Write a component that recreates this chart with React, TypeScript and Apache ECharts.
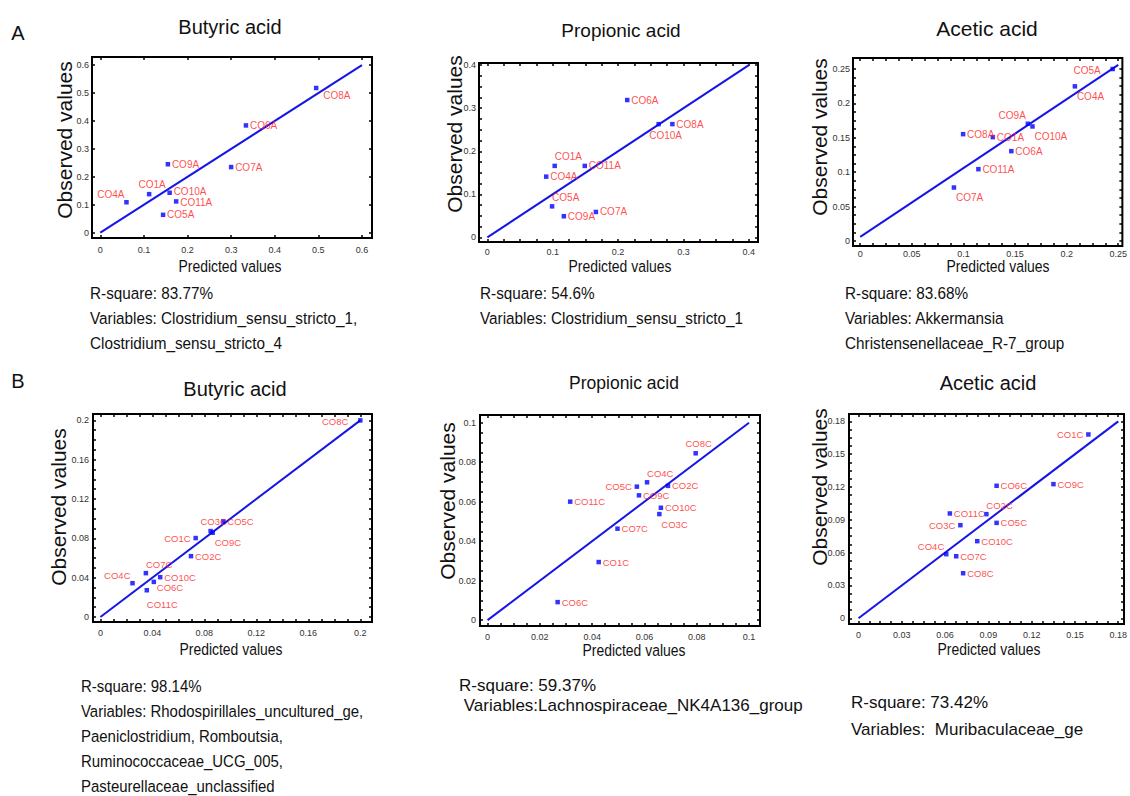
import React, { useEffect, useRef } from "react";
import * as echarts from "echarts";

const SANS = "'Liberation Sans', Arial, sans-serif";

// ---------- Panel A1: Butyric acid ----------
const a1Names = ["CO8A", "CO6A", "CO9A", "CO7A", "CO1A", "CO10A", "CO4A", "CO11A", "CO5A"];
const a1Pred = [0.495, 0.334, 0.155, 0.3, 0.112, 0.159, 0.06, 0.174, 0.144];
const a1Obs = [0.518, 0.384, 0.245, 0.235, 0.138, 0.143, 0.109, 0.112, 0.064];
const a1Fit = [[0, 0], [0.6, 0.6]];
const a1Ticks = [0, 0.1, 0.2, 0.3, 0.4, 0.5, 0.6];

// ---------- Panel A2: Propionic acid ----------
const a2Names = ["CO6A", "CO10A", "CO8A", "CO1A", "CO11A", "CO4A", "CO5A", "CO9A", "CO7A"];
const a2Pred = [0.214, 0.262, 0.283, 0.103, 0.149, 0.09, 0.099, 0.117, 0.166];
const a2Obs = [0.319, 0.263, 0.263, 0.166, 0.166, 0.141, 0.072, 0.049, 0.059];
const a2Fit = [[0, 0], [0.4, 0.4]];
const a2Ticks = [0, 0.1, 0.2, 0.3, 0.4];

// ---------- Panel A3: Acetic acid ----------
const a3Names = ["CO5A", "CO4A", "CO9A", "CO10A", "CO8A", "CO1A", "CO6A", "CO11A", "CO7A"];
const a3Pred = [0.2446, 0.208, 0.1624, 0.1669, 0.0997, 0.1285, 0.1464, 0.1145, 0.0908];
const a3Obs = [0.25, 0.2248, 0.1704, 0.1665, 0.1553, 0.151, 0.1306, 0.1044, 0.0777];
const a3Fit = [[0, 0.006], [0.25, 0.256]];
const a3Ticks = [0, 0.05, 0.1, 0.15, 0.2, 0.25];

// ---------- Panel B1: Butyric acid ----------
const b1Names = ["CO8C", "CO5C", "CO3C", "CO9C", "CO1C", "CO2C", "CO7C", "CO10C", "CO4C", "CO6C", "CO11C"];
const b1Pred = [0.2, 0.0946, 0.0848, 0.0864, 0.0733, 0.0697, 0.035, 0.046, 0.0247, 0.0411, 0.0357];
const b1Obs = [0.2, 0.0973, 0.0874, 0.0857, 0.0803, 0.0619, 0.0446, 0.0405, 0.0344, 0.0357, 0.0272];
const b1Fit = [[0, 0], [0.2, 0.2]];
const b1Ticks = [0, 0.04, 0.08, 0.12, 0.16, 0.2];

// ---------- Panel B2: Propionic acid ----------
const b2Names = ["CO8C", "CO4C", "CO5C", "CO2C", "CO9C", "CO11C", "CO10C", "CO3C", "CO7C", "CO1C", "CO6C"];
const b2Pred = [0.0796, 0.061, 0.0571, 0.069, 0.0579, 0.0316, 0.0663, 0.0657, 0.0497, 0.0425, 0.0268];
const b2Obs = [0.0845, 0.0698, 0.0676, 0.068, 0.0632, 0.06, 0.0569, 0.0537, 0.0463, 0.0294, 0.0091];
const b2Fit = [[0, 0], [0.1, 0.1]];
const b2Ticks = [0, 0.02, 0.04, 0.06, 0.08, 0.1];

// ---------- Panel B3: Acetic acid ----------
const b3Names = ["CO1C", "CO9C", "CO6C", "CO2C", "CO11C", "CO3C", "CO5C", "CO10C", "CO4C", "CO7C", "CO8C"];
const b3Pred = [0.1593, 0.1351, 0.0957, 0.0886, 0.0633, 0.0706, 0.0957, 0.0823, 0.0608, 0.0677, 0.0725];
const b3Obs = [0.168, 0.1226, 0.1211, 0.0952, 0.0958, 0.0851, 0.0872, 0.0705, 0.0586, 0.0567, 0.0412];
const b3Fit = [[0, 0], [0.18, 0.18]];
const b3Ticks = [0, 0.03, 0.06, 0.09, 0.12, 0.15, 0.18];

// ---------- Texts ----------
const panelTitles = ["Butyric acid", "Propionic acid", "Acetic acid", "Butyric acid", "Propionic acid", "Acetic acid"];
const xName = "Predicted values";
const yName = "Observed values";
const a1Notes = ["R-square: 83.77%", "Variables: Clostridium_sensu_stricto_1,", "Clostridium_sensu_stricto_4"];
const a2Notes = ["R-square: 54.6%", "Variables: Clostridium_sensu_stricto_1"];
const a3Notes = ["R-square: 83.68%", "Variables: Akkermansia", "Christensenellaceae_R-7_group"];
const b1Notes = [
  "R-square: 98.14%",
  "Variables: Rhodospirillales_uncultured_ge,",
  "Paeniclostridium, Romboutsia,",
  "Ruminococcaceae_UCG_005,",
  "Pasteurellaceae_unclassified",
];
const b2Notes = ["R-square: 59.37%", " Variables:Lachnospiraceae_NK4A136_group"];
const b3Notes = ["R-square: 73.42%", "Variables:  Muribaculaceae_ge"];

// ---------- Layout (positions / styles) ----------
const a1Place = ["brw", "r", "r", "r", "t", "rup", "tl", "rdn", "r"];
const a2Place = ["r", "b", "r", "tr", "r", "r", "tr", "r", "r"];
const a3Place = ["lw", "br", "tl", "br", "r", "r", "r", "r", "br"];
const b1Place = ["lw", "r", "t", "br", "l", "r", "tr", "r", "tl", "brs", "brl"];
const b2Place = ["t", "tr", "l", "r", "r", "r", "r", "br", "r", "r", "r"];
const b3Place = ["l", "r", "r", "tr", "r", "l", "r", "r", "tl", "r", "r"];

const placeMap: Record<string, [string, number, number]> = {
  r: ["left", 4, 0],
  rup: ["left", 4, -1],
  rdn: ["left", 4, 1],
  l: ["right", -5, 0],
  lw: ["right", -12, 1],
  t: ["center", 3, -10],
  b: ["center", 7, 11],
  tl: ["right", -2, -8],
  tr: ["left", 0, -9],
  br: ["left", 2, 10],
  brs: ["left", 3, 6],
  brl: ["left", 0, 14],
  brw: ["left", 7, 7],
};

const panels = [
  { names: a1Names, pred: a1Pred, obs: a1Obs, fit: a1Fit, xl: a1Ticks, yl: a1Ticks, div: 1, place: a1Place,
    box: [92, 57, 280, 181], xr: [-0.019, 0.623], yr: [-0.019, 0.629], big: true, xm: 7,
    title: [230, 27, 20], xn: [230, 266], yn: [64, 140], notes: a1Notes, nx: 90, ny: [293, 318, 343], ns: 0.9 },
  { names: a2Names, pred: a2Pred, obs: a2Obs, fit: a2Fit, xl: a2Ticks, yl: a2Ticks, div: 4, place: a2Place,
    box: [479, 63, 279, 179], xr: [-0.0128, 0.414], yr: [-0.0108, 0.405], big: true, xm: 5,
    title: [621, 30, 19], xn: [620, 266], yn: [454, 134], notes: a2Notes, nx: 480, ny: [293, 318], ns: 0.9 },
  { names: a3Names, pred: a3Pred, obs: a3Obs, fit: a3Fit, xl: a3Ticks, yl: a3Ticks, div: 4, place: a3Place,
    box: [853, 58, 272, 188], xr: [-0.007, 0.254], yr: [-0.0073, 0.266], big: true, xm: 3,
    title: [987, 28, 21], xn: [998, 266], yn: [819, 137], notes: a3Notes, nx: 845, ny: [293, 318, 343], ns: 0.9 },
  { names: b1Names, pred: b1Pred, obs: b1Obs, fit: b1Fit, xl: b1Ticks, yl: b1Ticks, div: 4, place: b1Place,
    box: [93, 414, 279, 208], xr: [-0.0057, 0.209], yr: [-0.0051, 0.2065], big: false, xm: 6,
    title: [235, 389, 20], xn: [231, 649], yn: [58, 507], notes: b1Notes, nx: 81, ny: [686, 711, 736, 761, 786], ns: 0.88 },
  { names: b2Names, pred: b2Pred, obs: b2Obs, fit: b2Fit, xl: b2Ticks, yl: b2Ticks, div: 4, place: b2Place,
    box: [480, 415, 280, 211], xr: [-0.0029, 0.1042], yr: [-0.003, 0.1039], big: false, xm: 6,
    title: [624, 383, 17.5], xn: [634, 650], yn: [447, 501], notes: b2Notes, nx: 459, ny: [685, 705], ns: 1.0 },
  { names: b3Names, pred: b3Pred, obs: b3Obs, fit: b3Fit, xl: b3Ticks, yl: b3Ticks, div: 4, place: b3Place,
    box: [849, 414, 279, 210], xr: [-0.0066, 0.184], yr: [-0.0052, 0.1867], big: false, xm: 6,
    title: [988, 383, 20], xn: [989, 649], yn: [819, 487], notes: b3Notes, nx: 851, ny: [702, 729], ns: 1.0 },
];

function tickValues(labels: number[], div: number): number[] {
  const out: number[] = [];
  for (let i = 0; i < labels.length; i++) {
    out.push(labels[i]);
    if (i < labels.length - 1) {
      for (let k = 1; k < div; k++) {
        const v = labels[i] + ((labels[i + 1] - labels[i]) * k) / div;
        out.push(Math.round(v * 1e6) / 1e6);
      }
    }
  }
  return out;
}

function textEl(text: string, x: number, y: number, size: number, align = "left", rotate = 0, sx = 1) {
  return {
    type: "text",
    x,
    y,
    rotation: rotate,
    scaleX: sx,
    silent: true,
    style: {
      text,
      x: 0,
      y: 0,
      fontSize: size,
      fontFamily: SANS,
      fill: "#111",
      align,
      verticalAlign: "middle",
      textAlign: align,
      textVerticalAlign: "middle",
    },
  };
}

function buildOption() {
  const grid: any[] = [];
  const xAxis: any[] = [];
  const yAxis: any[] = [];
  const series: any[] = [];
  const graphic: any[] = [];

  panels.forEach((p, i) => {
    grid.push({
      left: p.box[0],
      top: p.box[1],
      width: p.box[2],
      height: p.box[3],
      show: true,
      borderColor: "#000",
      borderWidth: 2,
      backgroundColor: "transparent",
    });
    const xs = tickValues(p.xl, p.div);
    const ys = tickValues(p.yl, p.div);
    const labelStyle = { fontSize: 9, fontFamily: SANS, color: "#333" };
    const tickStyle = { show: true, inside: true, length: 3, lineStyle: { color: "#000", width: 1.5 } };
    ["bottom", "top"].forEach((pos) => {
      xAxis.push({
        type: "value",
        gridIndex: i,
        position: pos,
        min: p.xr[0],
        max: p.xr[1],
        axisLine: { show: false, onZero: false },
        splitLine: { show: false },
        axisTick: { ...tickStyle, customValues: xs },
        axisLabel: {
          show: pos === "bottom",
          customValues: p.xl,
          margin: p.xm,
          formatter: (v: number) => String(v),
          ...labelStyle,
        },
      });
    });
    ["left", "right"].forEach((pos) => {
      yAxis.push({
        type: "value",
        gridIndex: i,
        position: pos,
        min: p.yr[0],
        max: p.yr[1],
        axisLine: { show: false, onZero: false },
        splitLine: { show: false },
        axisTick: { ...tickStyle, customValues: ys },
        axisLabel: {
          show: pos === "left",
          customValues: p.yl,
          margin: p.big ? 3 : 4,
          formatter: (v: number) => String(v),
          ...labelStyle,
        },
      });
    });

    series.push({
      type: "line",
      xAxisIndex: i * 2,
      yAxisIndex: i * 2,
      data: p.fit,
      symbol: "none",
      lineStyle: { color: "#1515e6", width: 2 },
      silent: true,
      z: 2,
    });
    series.push({
      type: "scatter",
      xAxisIndex: i * 2,
      yAxisIndex: i * 2,
      symbol: "rect",
      symbolSize: 4.5,
      itemStyle: { color: "#0000ff" },
      silent: true,
      z: 3,
      data: p.names.map((n, k) => {
        const [align, dx, dy] = placeMap[p.place[k]];
        return {
          value: [p.pred[k], p.obs[k]],
          name: n,
          label: {
            show: true,
            position: "inside",
            align,
            verticalAlign: "middle",
            offset: [dx, dy],
            formatter: n,
            color: "#ff1a1a",
            fontSize: p.big ? 10 : 9.5,
            fontFamily: SANS,
          },
        };
      }),
    });

    graphic.push(textEl(panelTitles[i], p.title[0], p.title[1], p.title[2], "center"));
    graphic.push(textEl(xName, p.xn[0], p.xn[1], 17, "center", 0, 0.82));
    graphic.push(textEl(yName, p.yn[0], p.yn[1], 21, "center", Math.PI / 2));
    p.notes.forEach((t, k) => {
      graphic.push(textEl(t, p.nx, p.ny[k], 17, "left", 0, p.ns));
    });
  });

  graphic.push(textEl("A", 18, 33, 20, "center"));
  graphic.push(textEl("B", 18, 381, 20, "center"));

  return {
    animation: false,
    backgroundColor: "#fff",
    grid,
    xAxis,
    yAxis,
    series,
    graphic: { elements: graphic },
  };
}

export default function App() {
  const ref = useRef<HTMLDivElement>(null);
  useEffect(() => {
    if (!ref.current) return;
    const chart = echarts.init(ref.current, null, { renderer: "svg" });
    chart.setOption(buildOption() as any);
    return () => chart.dispose();
  }, []);
  return (
    <div
      ref={ref}
      style={{ position: "absolute", left: 0, top: 0, width: 1130, height: 796, background: "#fff" }}
    />
  );
}
